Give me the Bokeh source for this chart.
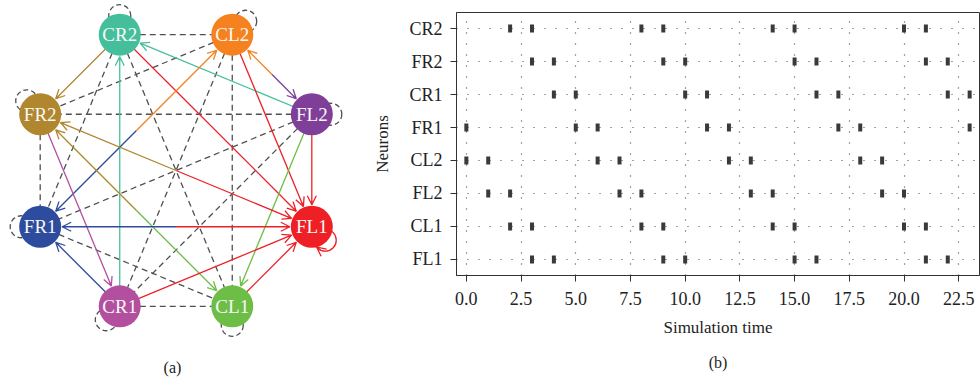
import math
from bokeh.plotting import figure
from bokeh.models import Range1d, FixedTicker, Arrow, OpenHead, Title, ColumnDataSource, PrintfTickFormatter
from bokeh.layouts import row, column
from bokeh.embed import file_html
from bokeh.resources import INLINE
from bokeh.core.properties import value

# ---------------- data: network (a) ----------------
net_nodes = ["CR2", "CL2", "FL2", "FL1", "CL1", "CR1", "FR1", "FR2"]
net_colors = ["#45bf9b", "#f5821f", "#7f3f98", "#ee2026", "#6dbe46", "#b2509f", "#2e4c9e", "#b0862e"]

exc_src = ["CR1", "FL2", "CR2", "CR2", "FR1", "CL2", "FL2", "CL2", "CL2", "FL2", "FL2",
           "FR2", "FL1", "FR2", "FR2", "CL1", "FR1", "FL1", "CR1", "CR1", "CL1"]
exc_dst = ["CR2", "CR2", "FR2", "FL1", "CL2", "FR1", "CL2", "FL2", "FL1", "FL1", "CL1",
           "FL1", "FR2", "CR1", "CL1", "FR2", "FL1", "FR1", "FR1", "FL1", "FL1"]

inh_a = ["CR2", "CR2", "CR2", "CL2", "CL2", "CL2", "FL2", "FL2", "FL2", "FR2", "FR1", "CR1"]
inh_b = ["CL2", "FR1", "CL1", "FR2", "CR1", "CL1", "FR2", "FR1", "CR1", "FR1", "CL1", "CL1"]

loops_inh = ["CR2", "CL2", "FL2", "CL1", "CR1", "FR1", "FR2"]
loops_exc = ["FL1"]

# ---------------- data: raster (b) ----------------
neurons = ["FL1", "CL1", "FL2", "CL2", "FR1", "CR1", "FR2", "CR2"]  # bottom to top
spikes_FL1 = [3, 4, 9, 10, 15, 16, 21, 22]
spikes_CL1 = [2, 3, 8, 9, 14, 15, 20, 21]
spikes_FL2 = [1, 2, 7, 8, 13, 14, 19, 20]
spikes_CL2 = [0, 1, 6, 7, 12, 13, 18, 19]
spikes_FR1 = [0, 5, 6, 11, 12, 17, 18, 23]
spikes_CR1 = [4, 5, 10, 11, 16, 17, 22, 23]
spikes_FR2 = [3, 4, 9, 10, 15, 16, 21, 22]
spikes_CR2 = [2, 3, 8, 9, 14, 15, 20, 21]
x_ticks = [0, 2.5, 5, 7.5, 10, 12.5, 15, 17.5, 20, 22.5]

SERIF = "Liberation Serif"

# ---------------- figure (a) ----------------
p1 = figure(width=370, height=383, x_range=Range1d(0, 370), y_range=Range1d(383, 0),
            output_backend="svg", toolbar_location=None,
            min_border=0, min_border_left=0, min_border_right=0, min_border_top=0, min_border_bottom=0)
p1.axis.visible = False
p1.grid.visible = False
p1.outline_line_color = None
p1.background_fill_color = None

CX, CY, R, NR = 175.5, 170.0, 147.0, 21.0
pos = {}
ang = {}
for i, n in enumerate(net_nodes):
    a = math.radians(112.5 - 45 * i)
    ang[n] = a
    pos[n] = (CX + R * math.cos(a), CY - R * math.sin(a))
col = dict(zip(net_nodes, net_colors))

# dashed undirected edges
p1.segment(x0=[pos[a][0] for a in inh_a], y0=[pos[a][1] for a in inh_a],
           x1=[pos[b][0] for b in inh_b], y1=[pos[b][1] for b in inh_b],
           line_color="#505050", line_width=1.3, line_dash="6 4")

# dashed self loops
LD, LR = 19.0, 11.0
def loop_center(n):
    a = ang[n] - math.radians(22.5)
    return (pos[n][0] + LD * math.cos(a), pos[n][1] - LD * math.sin(a))

p1.circle(x=[loop_center(n)[0] for n in loops_inh], y=[loop_center(n)[1] for n in loops_inh],
          radius=LR, fill_color=None, line_color="#505050", line_width=1.3, line_dash="5 3")

# colored directed edges
pairs = set(zip(exc_src, exc_dst))
xs0, ys0, xs1, ys1, cs = [], [], [], [], []
heads = []
for s, t in zip(exc_src, exc_dst):
    if s == t:
        continue
    sx, sy = pos[s]
    tx, ty = pos[t]
    dx, dy = tx - sx, ty - sy
    L = math.hypot(dx, dy)
    ux, uy = dx / L, dy / L
    if (t, s) in pairs:
        x0, y0 = (sx + tx) / 2, (sy + ty) / 2
    else:
        x0, y0 = sx, sy
    ex, ey = tx - (NR + 1) * ux, ty - (NR + 1) * uy
    xs0.append(x0); ys0.append(y0); xs1.append(ex); ys1.append(ey); cs.append(col[t])
    heads.append((ex - 4 * ux, ey - 4 * uy, ex, ey, col[t]))
p1.segment(x0=xs0, y0=ys0, x1=xs1, y1=ys1, line_color=cs, line_width=1.3)

# FL1 self loop (solid, red)
for n in loops_exc:
    lcx, lcy = loop_center(n)
    p1.circle(x=[lcx], y=[lcy], radius=LR, fill_color=None, line_color=col[n], line_width=1.3)
    nx, ny = pos[n]
    d = LD
    a_ = (d * d + NR * NR - LR * LR) / (2 * d)
    h_ = math.sqrt(max(NR * NR - a_ * a_, 0))
    ux, uy = (lcx - nx) / d, (lcy - ny) / d
    px, py = nx + a_ * ux - h_ * uy, ny + a_ * uy + h_ * ux
    phi = math.atan2(py - lcy, px - lcx)
    best = None
    for sgn in (1, -1):
        q = phi + sgn * 0.45
        qx, qy = lcx + LR * math.cos(q), lcy + LR * math.sin(q)
        dd = math.hypot(qx - nx, qy - ny)
        if best is None or dd > best[0]:
            best = (dd, qx, qy)
    heads.append((best[1], best[2], px, py, col[n]))

for (x0, y0, x1, y1, c) in heads:
    p1.add_layout(Arrow(end=OpenHead(line_color=c, line_width=1.3, size=9),
                        x_start=x0, y_start=y0, x_end=x1, y_end=y1,
                        line_color=c, line_width=1.3))

# nodes
src_nodes = ColumnDataSource(dict(x=[pos[n][0] for n in net_nodes], y=[pos[n][1] for n in net_nodes],
                                  name=net_nodes, color=net_colors))
p1.scatter(x="x", y="y", source=src_nodes, size=2 * NR, fill_color="color", line_color=None, level="overlay")
p1.text(x="x", y="y", text="name", source=src_nodes, text_align="center", text_baseline="middle",
        text_color="#f8f8f8", text_font=value(SERIF), text_font_size="19px", level="overlay")

p1.text(x=[172], y=[367], text=["(a)"], text_align="center", text_baseline="middle",
        text_color="#222222", text_font=value(SERIF), text_font_size="16px")

# ---------------- figure (b) ----------------
p2 = figure(width=610, height=383, x_range=Range1d(-0.45, 23.45), y_range=Range1d(-0.485, 7.485),
            output_backend="svg", toolbar_location=None,
            min_border_left=83, min_border_right=1, min_border_top=12, min_border_bottom=108)
p2.background_fill_color = None
p2.outline_line_color = "#333333"
p2.outline_line_width = 1

all_spikes = [spikes_FL1, spikes_CL1, spikes_FL2, spikes_CL2, spikes_FR1, spikes_CR1, spikes_FR2, spikes_CR2]
tx_, ty_ = [], []
for i, sp in enumerate(all_spikes):
    tx_ += sp
    ty_ += [i] * len(sp)
p2.rect(x=tx_, y=ty_, width=4, height=8, width_units="screen", height_units="screen",
        fill_color="#3a3a3a", line_color=None)

p2.xaxis.ticker = FixedTicker(ticks=x_ticks)
p2.xaxis.formatter = PrintfTickFormatter(format="%.1f")
p2.yaxis.ticker = FixedTicker(ticks=list(range(len(neurons))))
p2.yaxis.major_label_overrides = {i: n for i, n in enumerate(neurons)}
p2.xgrid.ticker = FixedTicker(ticks=x_ticks)
p2.ygrid.ticker = FixedTicker(ticks=list(range(len(neurons))))
p2.grid.grid_line_color = "#444444"
p2.grid.grid_line_dash = "1 10"
p2.grid.grid_line_width = 1.2

for ax in (p2.xaxis[0], p2.yaxis[0]):
    ax.axis_line_color = "#333333"
    ax.major_tick_line_color = "#333333"
    ax.major_tick_out = 6
    ax.major_tick_in = 0
    ax.minor_tick_line_color = None
    ax.major_label_text_font = SERIF
    ax.major_label_text_font_size = "18px"
    ax.major_label_text_color = "#222222"
    ax.axis_label_text_font = SERIF
    ax.axis_label_text_font_size = "17px"
    ax.axis_label_text_font_style = "normal"
    ax.axis_label_text_color = "#222222"

p2.xaxis.axis_label = "Simulation time"
p2.yaxis.axis_label = "Neurons"
p2.xaxis.major_label_standoff = 10
p2.xaxis.axis_label_standoff = 10
p2.yaxis.major_label_standoff = 8
p2.yaxis.axis_label_standoff = 14

p2.add_layout(Title(text="(b)", align="center", offset=-43, standoff=25,
                    text_font=SERIF, text_font_size="16px", text_font_style="normal",
                    text_color="#222222"), "below")

layout = row(column(p1), column(p2))
open("out.html", "w").write(file_html(layout, INLINE))
